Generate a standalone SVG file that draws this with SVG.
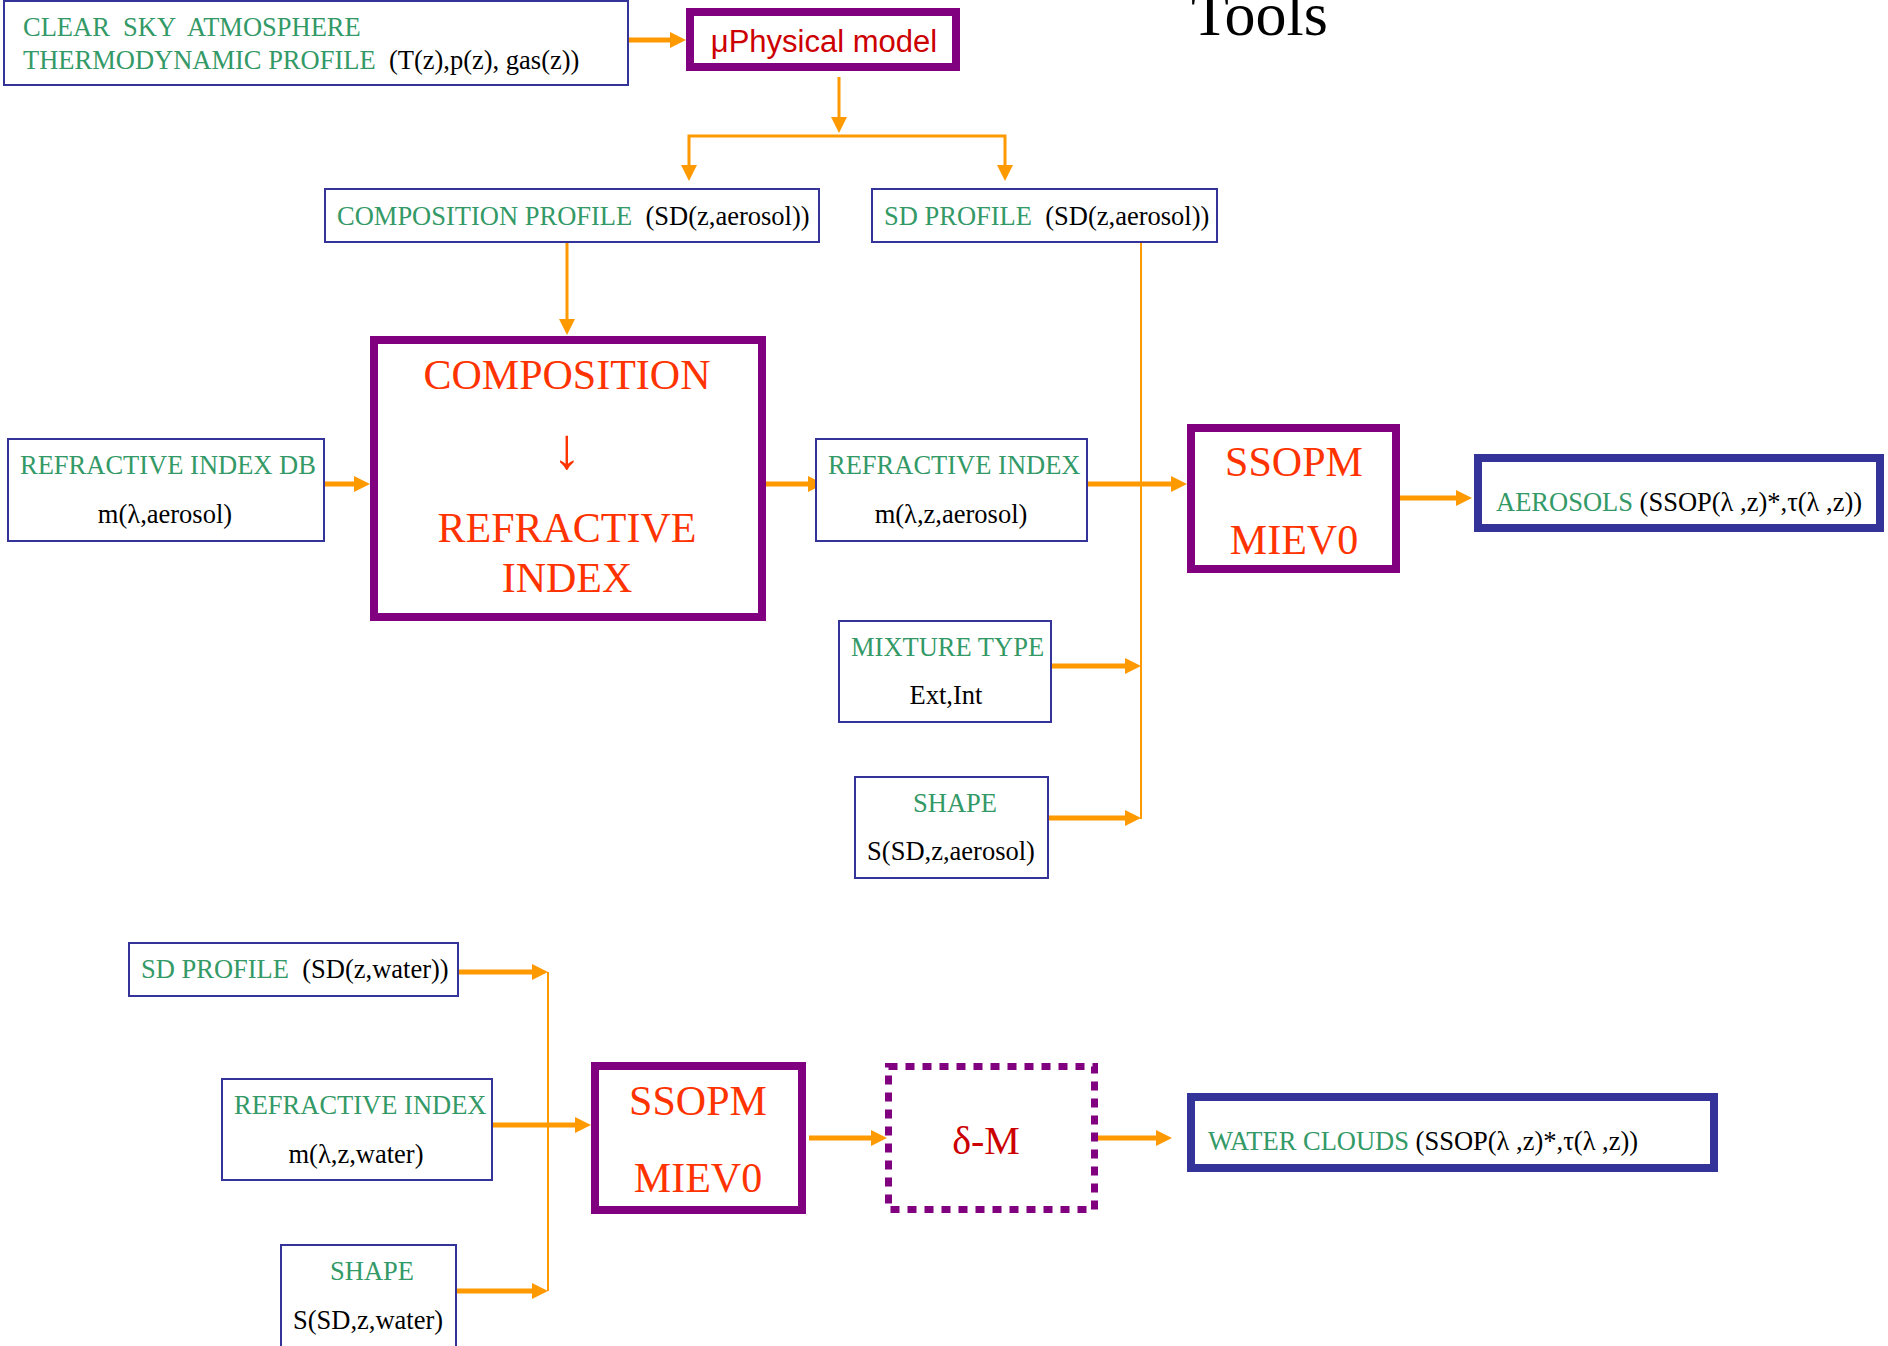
<svg xmlns="http://www.w3.org/2000/svg" width="1888" height="1346" viewBox="0 0 1888 1346">
  <style>
    text { font-family: "Liberation Serif", "Times New Roman", serif; }
    .t { font-size: 26.5px; }
    .g { fill: #339966; }
    .k { fill: #000000; }
    .big { font-size: 42px; fill: #FF3300; text-anchor: middle; }
    .mid { text-anchor: middle; }
    .box { fill: #ffffff; stroke: #333399; stroke-width: 2; }
    .proc { fill: #ffffff; stroke: #800080; stroke-width: 8; }
    .out { fill: #ffffff; stroke: #333399; stroke-width: 8; }
    .dots { fill: none; stroke: #800080; stroke-width: 7; stroke-dasharray: 9 8; }
    .arw { fill: none; stroke: #FF9900; stroke-width: 5; marker-end: url(#ah); }
    .arw3 { fill: none; stroke: #FF9900; stroke-width: 3; marker-end: url(#ah); }
    .bus { fill: none; stroke: #FF9900; stroke-width: 2; }
  </style>
  <defs>
    <marker id="ah" markerWidth="16" markerHeight="16" refX="6" refY="8" orient="auto" markerUnits="userSpaceOnUse">
      <path d="M0,0 L16,8 L0,16 z" fill="#FF9900"/>
    </marker>
  </defs>

  <rect width="1888" height="1346" fill="#ffffff"/>

  <text id="title" x="1191" y="35" font-size="62" fill="#000">Tools</text>

  <!-- connectors -->
  <g id="connectors">
    <path class="arw" d="M628,40 H676"/>
    <path class="arw3" d="M839,77 V123"/>
    <path class="arw3" d="M839,136 H689 V171"/>
    <path class="arw3" d="M839,136 H1005 V171"/>
    <path class="arw3" d="M567,242 V325"/>
    <path class="arw" d="M311,484 H360"/>
    <path class="arw" d="M766,484 H814"/>
    <path class="arw" d="M1084,484 H1177"/>
    <path class="bus" d="M1141,242 V819"/>
    <path class="arw" d="M1051,666 H1131"/>
    <path class="arw" d="M1048,818 H1131"/>
    <path class="arw" d="M1400,498 H1462"/>
    <path class="bus" d="M548,972 V1291"/>
    <path class="arw" d="M458,972 H538"/>
    <path class="arw" d="M488,1125 H581"/>
    <path class="arw" d="M456,1291 H538"/>
    <path class="arw" d="M809,1138 H877"/>
    <path class="arw" d="M1098,1138 H1162"/>
  </g>

  <g id="clear-sky">
    <rect class="box" x="4" y="1" width="624" height="84"/>
    <text class="t g" x="23" y="36" xml:space="preserve">CLEAR  SKY  ATMOSPHERE</text>
    <text class="t" x="23" y="69" xml:space="preserve"><tspan class="g">THERMODYNAMIC PROFILE</tspan><tspan class="k">  (T(z),p(z), gas(z))</tspan></text>
  </g>

  <g id="microphysical-model">
    <rect class="proc" x="690" y="12" width="266" height="55"/>
    <text x="824" y="52" font-size="31" fill="#CC0000" text-anchor="middle" style="font-family:'Liberation Sans',Arial,sans-serif">μPhysical model</text>
  </g>

  <g id="composition-profile">
    <rect class="box" x="325" y="189" width="494" height="53"/>
    <text class="t" x="337" y="225" xml:space="preserve"><tspan class="g">COMPOSITION PROFILE</tspan><tspan class="k">  (SD(z,aerosol))</tspan></text>
  </g>

  <g id="sd-profile-aerosol">
    <rect class="box" x="872" y="189" width="345" height="53"/>
    <text class="t" x="884" y="225" xml:space="preserve"><tspan class="g">SD PROFILE</tspan><tspan class="k">  (SD(z,aerosol))</tspan></text>
  </g>

  <g id="composition-to-refractive">
    <rect class="proc" x="374" y="340" width="388" height="277"/>
    <text class="big" x="567" y="389">COMPOSITION</text>
    <text class="big" x="567" y="468" font-size="58" style="font-size:58px">↓</text>
    <text class="big" x="567" y="542">REFRACTIVE</text>
    <text class="big" x="567" y="592">INDEX</text>
  </g>

  <g id="refractive-index-db">
    <rect class="box" x="8" y="439" width="316" height="102"/>
    <text class="t g" x="20" y="474">REFRACTIVE INDEX DB</text>
    <text class="t k mid" x="165" y="523">m(λ,aerosol)</text>
  </g>

  <g id="refractive-index-aerosol">
    <rect class="box" x="816" y="439" width="271" height="102"/>
    <text class="t g" x="828" y="474">REFRACTIVE INDEX</text>
    <text class="t k mid" x="951" y="523">m(λ,z,aerosol)</text>
  </g>

  <g id="ssopm-aerosol">
    <rect class="proc" x="1191" y="428" width="205" height="141"/>
    <text class="big" x="1294" y="476">SSOPM</text>
    <text class="big" x="1294" y="554">MIEV0</text>
  </g>

  <g id="aerosols">
    <rect class="out" x="1478" y="458" width="402" height="70"/>
    <text class="t" x="1496" y="511" xml:space="preserve"><tspan class="g">AEROSOLS</tspan><tspan class="k"> (SSOP(λ ,z)*,τ(λ ,z))</tspan></text>
  </g>

  <g id="mixture-type">
    <rect class="box" x="839" y="621" width="212" height="101"/>
    <text class="t g" x="851" y="656">MIXTURE TYPE</text>
    <text class="t k mid" x="946" y="704">Ext,Int</text>
  </g>

  <g id="shape-aerosol">
    <rect class="box" x="855" y="777" width="193" height="101"/>
    <text class="t g mid" x="955" y="812">SHAPE</text>
    <text class="t k mid" x="951" y="860">S(SD,z,aerosol)</text>
  </g>

  <g id="sd-profile-water">
    <rect class="box" x="129" y="943" width="329" height="53"/>
    <text class="t" x="141" y="978" xml:space="preserve"><tspan class="g">SD PROFILE</tspan><tspan class="k">  (SD(z,water))</tspan></text>
  </g>

  <g id="refractive-index-water">
    <rect class="box" x="222" y="1079" width="270" height="101"/>
    <text class="t g" x="234" y="1114">REFRACTIVE INDEX</text>
    <text class="t k mid" x="356" y="1163">m(λ,z,water)</text>
  </g>

  <g id="shape-water">
    <rect class="box" x="281" y="1245" width="175" height="104"/>
    <text class="t g mid" x="372" y="1280">SHAPE</text>
    <text class="t k mid" x="368" y="1329">S(SD,z,water)</text>
  </g>

  <g id="ssopm-water">
    <rect class="proc" x="595" y="1066" width="207" height="144"/>
    <text class="big" x="698" y="1115">SSOPM</text>
    <text class="big" x="698" y="1192">MIEV0</text>
  </g>

  <g id="delta-m">
    <rect class="dots" x="888.5" y="1066.5" width="206" height="143"/>
    <text x="986" y="1154" font-size="40" fill="#CC0000" text-anchor="middle">δ-M</text>
  </g>

  <g id="water-clouds">
    <rect class="out" x="1191" y="1097" width="523" height="71"/>
    <text class="t" x="1208" y="1150" xml:space="preserve"><tspan class="g">WATER CLOUDS</tspan><tspan class="k"> (SSOP(λ ,z)*,τ(λ ,z))</tspan></text>
  </g>
</svg>
